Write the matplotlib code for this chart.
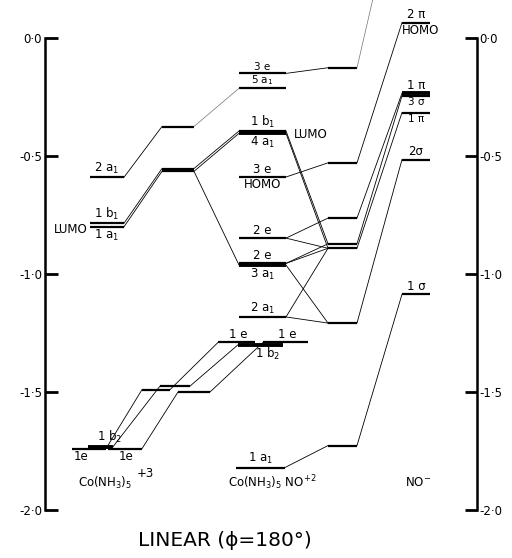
import matplotlib
matplotlib.use("Agg")
import matplotlib.pyplot as plt

# ---- orbital energies ----
# Co(NH3)5 +3 fragment
A_names = ["2a1", "1b1", "1a1", "1e_l", "1b2", "1e_r"]
A_energy = [-0.59, -0.785, -0.80, -1.74, -1.732, -1.74]
# intermediate column between fragment and complex
B_names = ["u", "d1", "d2", "l1", "l2", "l3"]
B_energy = [-0.375, -0.553, -0.565, -1.49, -1.475, -1.50]
# Co(NH3)5NO +2 complex
C_names = ["3e", "5a1", "1b1", "4a1", "3eH", "2e_u", "2e_l", "3a1", "2a1",
           "1e_l", "1b2", "1e_r", "1a1"]
C_energy = [-0.150, -0.213, -0.394, -0.404, -0.589, -0.848, -0.955, -0.962,
            -1.182, -1.29, -1.30, -1.29, -1.82]
# intermediate column between complex and NO-
D_names = ["d1", "d2", "d3", "d4", "d5", "d6", "d7"]
D_energy = [-0.126, -0.529, -0.763, -0.872, -0.891, -1.208, -1.727]
# NO- (3pi lies above the frame)
E_names = ["3pi", "2pi", "1pi", "3sig", "1pi_l", "2sig", "1sig"]
E_energy = [0.70, 0.065, -0.234, -0.245, -0.316, -0.515, -1.086]

# correlation lines: (column, level) -> (column, level)
links = [
    ("A", "2a1", "B", "u"), ("A", "1b1", "B", "d1"), ("A", "1a1", "B", "d2"),
    ("A", "1e_l", "B", "l1"), ("A", "1b2", "B", "l2"), ("A", "1e_r", "B", "l3"),
    ("B", "u", "C", "5a1"), ("B", "d1", "C", "1b1"), ("B", "d2", "C", "4a1"),
    ("B", "d2", "C", "3a1"),
    ("B", "l1", "C", "1e_l"), ("B", "l2", "C", "1b2"), ("B", "l3", "C", "1e_r"),
    ("C", "3e", "D", "d1"), ("C", "3eH", "D", "d2"), ("C", "1b1", "D", "d4"),
    ("C", "4a1", "D", "d5"), ("C", "2e_u", "D", "d3"), ("C", "2e_u", "D", "d5"),
    ("C", "2e_l", "D", "d4"), ("C", "2e_l", "D", "d5"), ("C", "3a1", "D", "d6"),
    ("C", "2a1", "D", "d6"), ("C", "2a1", "D", "d5"), ("C", "1a1", "D", "d7"),
    ("D", "d1", "E", "3pi"), ("D", "d2", "E", "2pi"), ("D", "d3", "E", "1pi"),
    ("D", "d4", "E", "3sig"), ("D", "d5", "E", "1pi_l"), ("D", "d6", "E", "2sig"),
    ("D", "d7", "E", "1sig"),
]
faint = [("B", "u", "C", "5a1"), ("D", "d1", "E", "3pi")]

columns = {"A": (A_names, A_energy), "B": (B_names, B_energy),
           "C": (C_names, C_energy), "D": (D_names, D_energy),
           "E": (E_names, E_energy)}

# ---- layout (horizontal extent of the levels, in figure pixels) ----
span = {"A": (90, 124), "B": (162, 194), "C": (239, 286), "D": (328, 357),
        "E": (402, 430)}
span_ovr = {("A", "1e_l"): (72, 106), ("A", "1b2"): (88, 113),
            ("A", "1e_r"): (108, 142), ("B", "l1"): (142, 170),
            ("B", "l2"): (160, 190), ("B", "l3"): (178, 210),
            ("C", "1e_l"): (218, 255), ("C", "1b2"): (238, 283),
            ("C", "1e_r"): (263, 308), ("C", "1a1"): (236, 285)}
thick = {("C", "4a1"), ("C", "3a1"), ("E", "1pi"), ("C", "1b2"), ("A", "1b2")}
hidden = {("E", "3pi")}

# level labels: (column, level) -> list of (text, side, x centre or None)
labels = {
    ("A", "2a1"): [("2 a$_1$", "up", None)],
    ("A", "1b1"): [("1 b$_1$", "up", None)],
    ("A", "1a1"): [("1 a$_1$", "down", None)],
    ("A", "1e_l"): [("1e", "down", 81)],
    ("A", "1b2"): [("1 b$_2$", "up", 110)],
    ("A", "1e_r"): [("1e", "down", 126)],
    ("C", "3e"): [("3 e", "up", None)],
    ("C", "5a1"): [("5 a$_1$", "up", None)],
    ("C", "1b1"): [("1 b$_1$", "up", None)],
    ("C", "4a1"): [("4 a$_1$", "down", None)],
    ("C", "3eH"): [("3 e", "up", None), ("HOMO", "down", None)],
    ("C", "2e_u"): [("2 e", "up", None)],
    ("C", "2e_l"): [("2 e", "up", None)],
    ("C", "3a1"): [("3 a$_1$", "down", None)],
    ("C", "2a1"): [("2 a$_1$", "up", None)],
    ("C", "1e_l"): [("1 e", "up", 238)],
    ("C", "1e_r"): [("1 e", "up", 287)],
    ("C", "1b2"): [("1 b$_2$", "down", 268)],
    ("C", "1a1"): [("1 a$_1$", "up", None)],
    ("E", "2pi"): [("2 π", "up", None), ("HOMO", "down", 421)],
    ("E", "1pi"): [("1 π", "up", None)],
    ("E", "3sig"): [("3 σ", "down", None)],
    ("E", "1pi_l"): [("1 π", "down", None)],
    ("E", "2sig"): [("2σ", "up", None)],
    ("E", "1sig"): [("1 σ", "up", None)],
}
small = {("C", "5a1"), ("C", "3e"), ("E", "3sig"), ("E", "1pi_l")}

W, H = 512, 558
top_px, px_per_unit = 38, 236

fig = plt.figure(figsize=(W / 100, H / 100), dpi=100)
ax = fig.add_axes([0, 0, 1, 1])
ax.set_xlim(0, W)
ax.set_ylim(-(H - top_px) / px_per_unit, top_px / px_per_unit)
ax.axis("off")


def extent(col, name):
    return span_ovr.get((col, name), span[col])


def energy(col, name):
    names, ens = columns[col]
    return ens[names.index(name)]


# levels
for col, (names, ens) in columns.items():
    for n, e in zip(names, ens):
        if (col, n) in hidden:
            continue
        x0, x1 = extent(col, n)
        lw = 2.8 if (col, n) in thick else 1.6
        ax.plot([x0, x1], [e, e], color="black", lw=lw, solid_capstyle="butt")
        fs = 7.5 if (col, n) in small else 8.5
        for txt, side, xc in labels.get((col, n), []):
            if xc is None:
                xc = (x0 + x1) / 2
            dy = 1.0 if side == "up" else -1.0
            ax.annotate(txt, (xc, e), xytext=(0, dy), textcoords="offset points",
                        ha="center", va="bottom" if side == "up" else "top",
                        fontsize=fs)

# correlation lines
for c0, n0, c1, n1 in links:
    x0 = extent(c0, n0)[1]
    x1 = extent(c1, n1)[0]
    if (c0, n0, c1, n1) in faint:
        ax.plot([x0, x1], [energy(c0, n0), energy(c1, n1)], color="0.45", lw=0.5)
    else:
        ax.plot([x0, x1], [energy(c0, n0), energy(c1, n1)], color="black", lw=0.6)

# extra labels
ax.text(88, energy("A", "1a1") - 0.012, "LUMO", ha="right", va="center", fontsize=8.5)
ax.text(294, energy("C", "4a1") - 0.005, "LUMO", ha="left", va="center", fontsize=8.5)
ax.text(105, -1.885, "Co(NH$_3$)$_5$", ha="center", va="center", fontsize=8.5)
ax.text(137, -1.845, "+3", ha="left", va="center", fontsize=8.5)
ax.text(272, -1.885, "Co(NH$_3$)$_5$ NO$^{+2}$", ha="center", va="center", fontsize=8.5)
ax.text(418, -1.885, "NO$^{-}$", ha="center", va="center", fontsize=8.5)

# energy scales
ticks = [0.0, -0.5, -1.0, -1.5, -2.0]
ticklabels = ["0·0", "-0·5", "-1·0", "-1·5", "-2·0"]
for xpos, side in [(45, "left"), (476, "right")]:
    sub = ax.inset_axes([xpos, -2.0, 0.5, 2.0], transform=ax.transData)
    sub.set_ylim(-2.0, 0.0)
    sub.set_xticks([])
    sub.patch.set_visible(False)
    for s in sub.spines:
        sub.spines[s].set_visible(s == side)
    sub.spines[side].set_linewidth(1.8)
    if side == "right":
        sub.yaxis.tick_right()
    sub.set_yticks(ticks)
    sub.set_yticklabels(ticklabels)
    sub.tick_params(axis="y", direction="in", length=9, width=2,
                    labelsize=8.5, pad=2)

fig.text(225 / W, 1 - 540 / H, "LINEAR (ϕ=180°)", ha="center", va="center",
         fontsize=14.5)

fig.savefig("out.png", dpi=100)
